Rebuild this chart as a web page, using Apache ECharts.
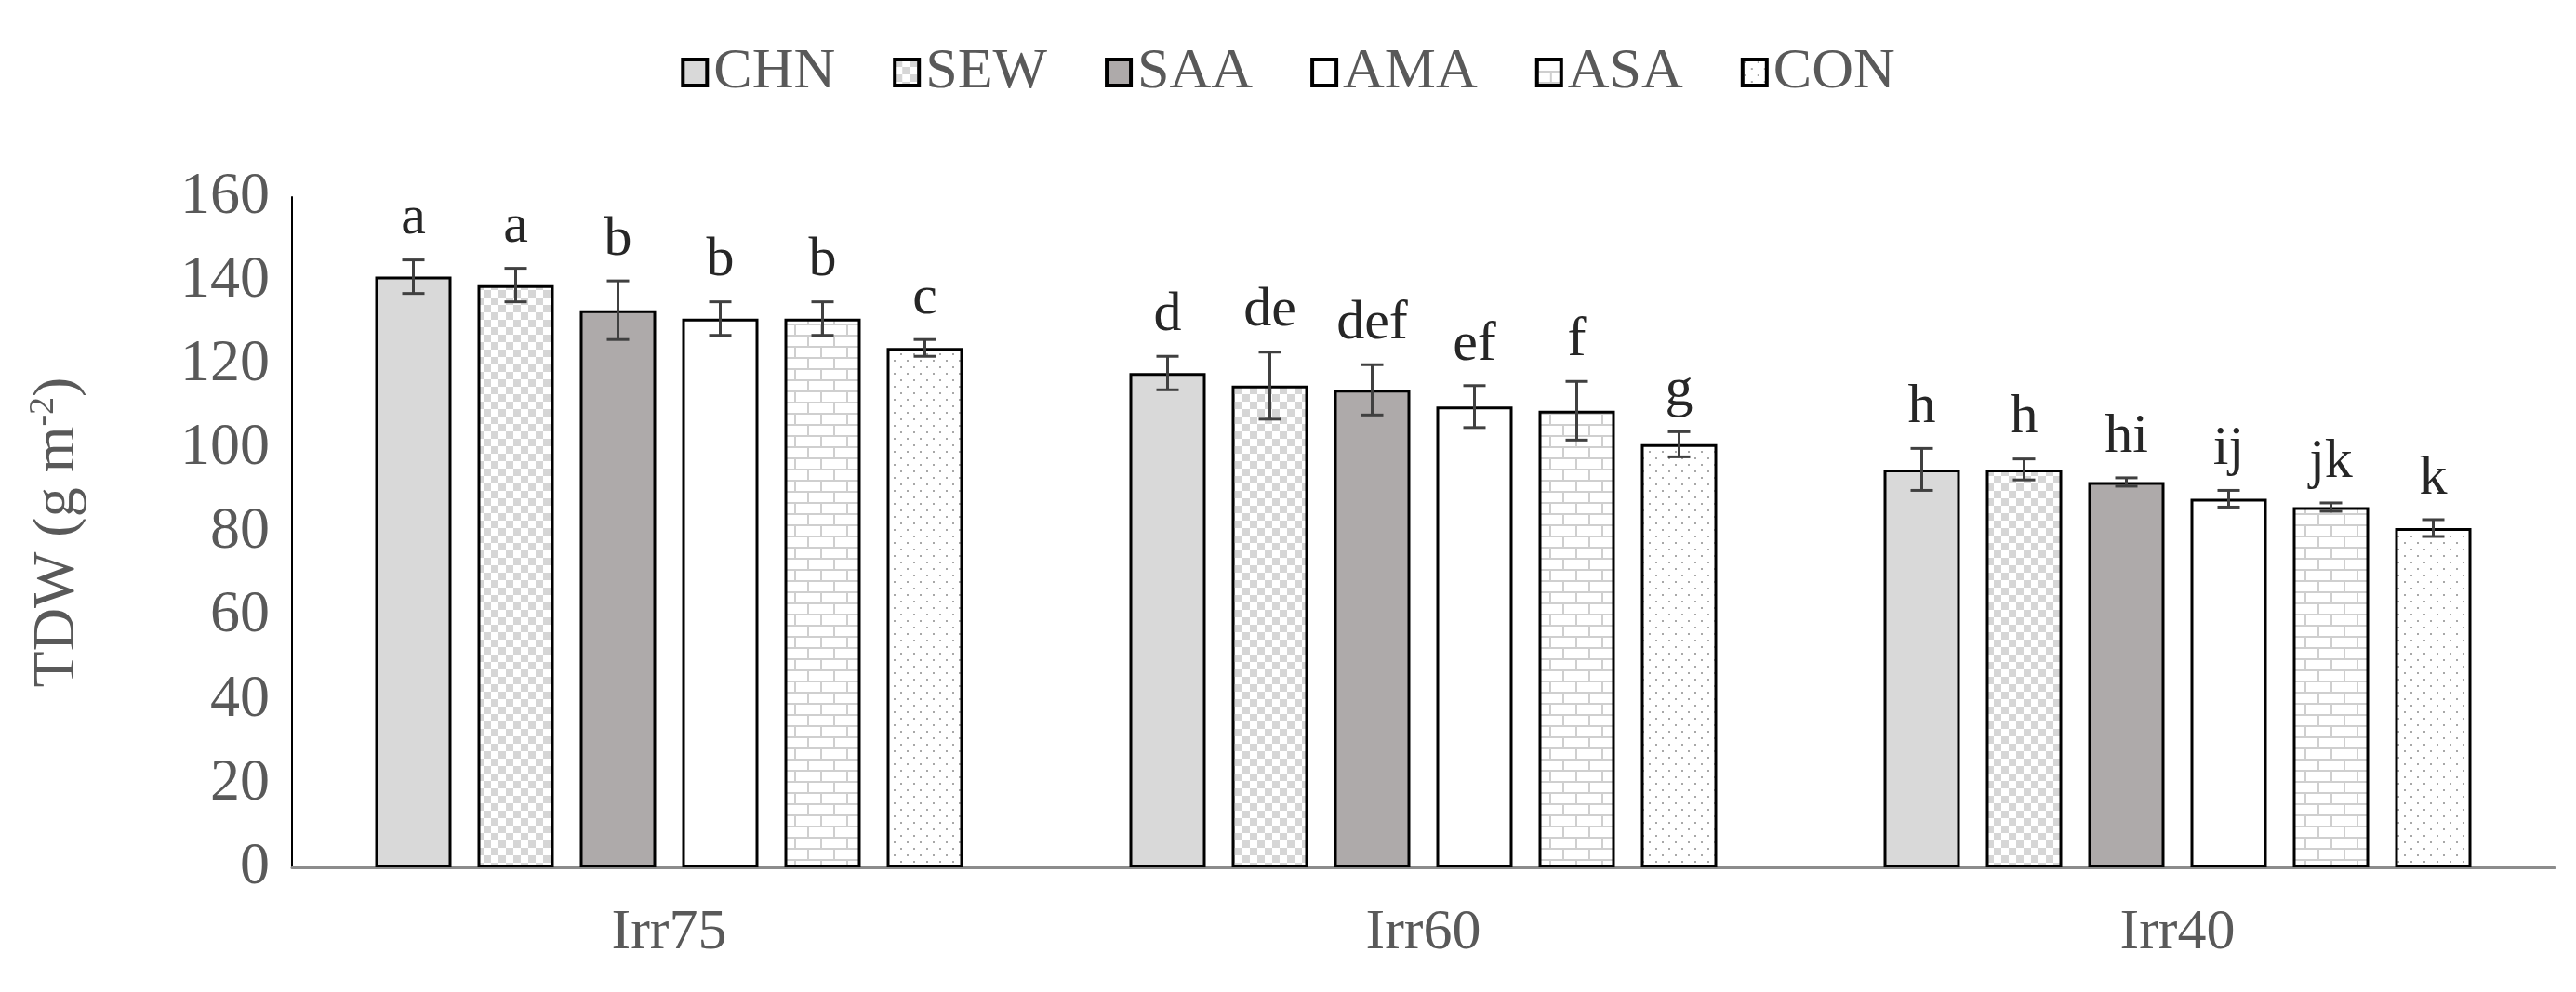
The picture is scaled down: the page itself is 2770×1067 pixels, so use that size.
<!DOCTYPE html>
<html lang="en">
<head>
    <meta charset="UTF-8">
    <title>TDW</title>
    <script src="https://cdn.jsdelivr.net/npm/echarts@6/dist/echarts.min.js"></script>
    <style>
        html, body { margin: 0; padding: 0; background: #fff; }
        #box { width: 2770px; height: 1067px; }
    </style>
</head>
<body>
<div id="box"></div>
<script>
    var categories = ['Irr75', 'Irr60', 'Irr40'];
    var seriesNames = ['CHN', 'SEW', 'SAA', 'AMA', 'ASA', 'CON'];
    var CHN = [141, 118, 95];
    var SEW = [139, 115, 95];
    var SAA = [133, 114, 92];
    var AMA = [131, 110, 88];
    var ASA = [131, 109, 86];
    var CON = [124, 101, 81];
    var errCHN = [4, 4, 5];
    var errSEW = [4, 8, 2.5];
    var errSAA = [7, 6, 1];
    var errAMA = [4, 5, 2];
    var errASA = [4, 7, 1];
    var errCON = [2, 3, 2];
    var lettersCHN = ['a', 'd', 'h'];
    var lettersSEW = ['a', 'de', 'h'];
    var lettersSAA = ['b', 'def', 'hi'];
    var lettersAMA = ['b', 'ef', 'ij'];
    var lettersASA = ['b', 'f', 'jk'];
    var lettersCON = ['c', 'g', 'k'];
    var yTicks = [0, 20, 40, 60, 80, 100, 120, 140, 160];

    var values = [CHN, SEW, SAA, AMA, ASA, CON];
    var errors = [errCHN, errSEW, errSAA, errAMA, errASA, errCON];
    var letters = [lettersCHN, lettersSEW, lettersSAA, lettersAMA, lettersASA, lettersCON];

    // fill patterns
    function makePattern(kind) {
        var c = document.createElement('canvas');
        var ctx = c.getContext('2d');
        if (kind === 'checker') {
            c.width = 16; c.height = 16;
            ctx.fillStyle = '#fff'; ctx.fillRect(0, 0, 16, 16);
            ctx.fillStyle = '#d6d6d6';
            ctx.fillRect(0, 0, 8, 8); ctx.fillRect(8, 8, 8, 8);
        } else if (kind === 'brick') {
            c.width = 28; c.height = 24;
            ctx.fillStyle = '#fff'; ctx.fillRect(0, 0, 28, 24);
            ctx.strokeStyle = '#cfcfcf'; ctx.lineWidth = 2;
            ctx.beginPath();
            ctx.moveTo(0, 1); ctx.lineTo(28, 1);
            ctx.moveTo(0, 13); ctx.lineTo(28, 13);
            ctx.moveTo(1, 1); ctx.lineTo(1, 13);
            ctx.moveTo(15, 13); ctx.lineTo(15, 24);
            ctx.stroke();
        } else {
            c.width = 14; c.height = 14;
            ctx.fillStyle = '#fff'; ctx.fillRect(0, 0, 14, 14);
            ctx.fillStyle = '#a8a8a8';
            ctx.fillRect(2, 2, 2, 2); ctx.fillRect(9, 9, 2, 2);
        }
        return { image: c, repeat: 'repeat' };
    }
    var fills = ['#d9d9d9', makePattern('checker'), '#aeaaaa', '#ffffff', makePattern('brick'), makePattern('dots')];

    var barWidth = 82;
    var gapPx = 28;
    var font = 'Liberation Serif';

    var series = [];
    seriesNames.forEach(function (name, i) {
        series.push({
            name: name,
            type: 'bar',
            barWidth: barWidth,
            barGap: (gapPx / barWidth * 100) + '%',
            data: values[i],
            itemStyle: { color: fills[i], borderColor: '#000', borderWidth: 3 }
        });
    });
    // error bars + letters
    series.push({
        type: 'custom',
        z: 10,
        data: (function () {
            var d = [];
            for (var s = 0; s < 6; s++) {
                for (var c = 0; c < 3; c++) d.push([c, values[s][c], errors[s][c], s]);
            }
            return d;
        })(),
        renderItem: function (params, api) {
            var c = api.value(0), v = api.value(1), e = api.value(2), s = api.value(3);
            var lab = letters[s][c];
            var dx = (s - 2.5) * (barWidth + gapPx);
            var top = api.coord([c, v + e]);
            var bot = api.coord([c, v - e]);
            var x = top[0] + dx;
            var style = { stroke: '#404040', lineWidth: 3 };
            return {
                type: 'group',
                children: [
                    { type: 'line', shape: { x1: x, y1: top[1], x2: x, y2: bot[1] }, style: style },
                    { type: 'line', shape: { x1: x - 12, y1: top[1], x2: x + 12, y2: top[1] }, style: style },
                    { type: 'line', shape: { x1: x - 12, y1: bot[1], x2: x + 12, y2: bot[1] }, style: style },
                    { type: 'text', x: x, y: top[1] - 14, style: {
                        text: lab, fill: '#262626', font: '60px "Liberation Serif"',
                        align: 'center', verticalAlign: 'bottom' } }
                ]
            };
        }
    });

    var myChart = echarts.init(document.getElementById('box'));
    myChart.setOption({
        animation: false,
        textStyle: { fontFamily: font },
        legend: {
            data: seriesNames.map(function (n) { return { name: n, icon: 'rect' }; }),
            top: 42,
            left: 'center',
            itemWidth: 26,
            itemHeight: 28,
            itemGap: 62,
            itemStyle: { borderWidth: 4 },
            textStyle: { fontSize: 62, color: '#595959', fontFamily: font, padding: [0, 0, 0, 2] }
        },
        grid: { left: 314, right: 23, top: 212, bottom: 134 },
        xAxis: {
            type: 'category',
            data: categories,
            axisLine: { lineStyle: { color: '#8c8c8c', width: 3 } },
            axisTick: { show: false },
            axisLabel: { fontSize: 62, color: '#595959', fontFamily: font, margin: 40 }
        },
        yAxis: {
            type: 'value',
            min: yTicks[0],
            max: yTicks[yTicks.length - 1],
            interval: 20,
            name: '{a|TDW (g m}{b|-2}{a|)}',
            nameLocation: 'middle',
            nameGap: 218,
            nameTextStyle: {
                rich: {
                    a: { fontSize: 64, color: '#595959', fontFamily: font },
                    b: { fontSize: 38, color: '#595959', fontFamily: font, verticalAlign: 'top', padding: [0, 0, 30, 0] }
                }
            },
            axisLine: { show: true, lineStyle: { color: '#000', width: 2 } },
            axisTick: { show: false },
            splitLine: { show: false },
            axisLabel: { fontSize: 64, color: '#595959', fontFamily: font, margin: 24 }
        },
        series: series
    });
</script>
</body>
</html>
